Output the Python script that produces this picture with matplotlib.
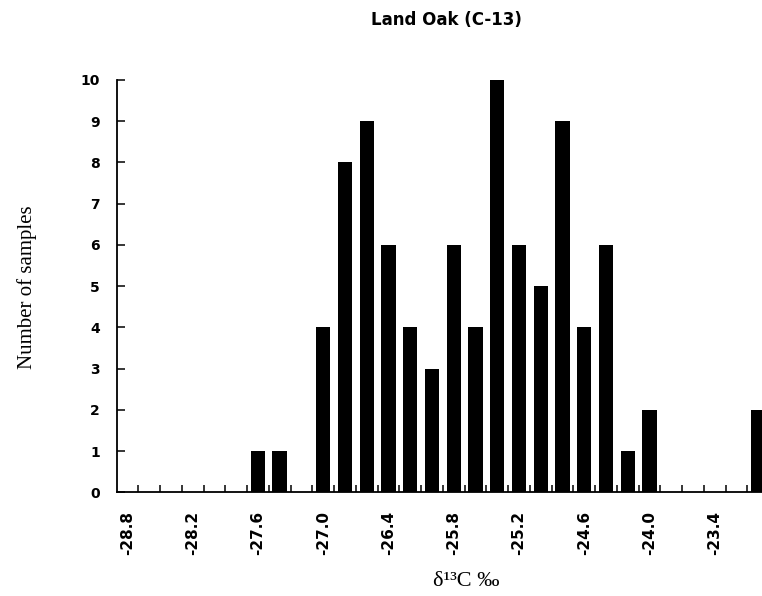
import matplotlib
matplotlib.use("Agg")
import matplotlib.pyplot as plt

# delta 13C classes (per mil), 0.2 steps
DELTA = [-28.8, -28.6, -28.4, -28.2, -28.0, -27.8, -27.6, -27.4, -27.2, -27.0,
         -26.8, -26.6, -26.4, -26.2, -26.0, -25.8, -25.6, -25.4, -25.2, -25.0,
         -24.8, -24.6, -24.4, -24.2, -24.0, -23.8, -23.6, -23.4, -23.2, -23.0]
COUNTS = [0, 0, 0, 0, 0, 0, 1, 1, 0, 4,
          8, 9, 6, 4, 3, 6, 4, 10, 6, 5,
          9, 4, 6, 1, 2, 0, 0, 0, 0, 2]
LABEL_EVERY = 3

fig = plt.figure(figsize=(7.62, 5.96), dpi=100)
ax = fig.add_axes([0.1529, 0.1737, 0.8471, 0.6921])

pos = list(range(len(DELTA)))
ax.bar(pos, COUNTS, width=0.66, color="black")

ax.set_xlim(-0.5, 29.17)
ax.set_ylim(0, 10)

for s in ["top", "right"]:
  ax.spines[s].set_visible(False)
for s in ["left", "bottom"]:
  ax.spines[s].set_linewidth(1.3)

# labels every 3rd class, tick marks between classes
ax.set_xticks(pos[::LABEL_EVERY])
ax.set_xticklabels(["%.1f" % d for d in DELTA[::LABEL_EVERY]],
                   rotation=90, fontsize=11, fontweight="bold",
                   family="DejaVu Sans", va="top")
ax.set_xticks([p + 0.5 for p in pos[:-1]], minor=True)
ax.tick_params(axis="x", which="major", length=0, pad=13)
ax.tick_params(axis="x", which="minor", direction="in", length=5, width=1.1)

ax.set_yticks(range(0, 11))
ax.set_yticklabels([str(v) for v in range(0, 11)], fontsize=10,
                   fontweight="bold", family="DejaVu Sans")
ax.tick_params(axis="y", direction="in", length=6, width=1.1, pad=12)

fig.text(446 / 762, 1 - 20 / 596, "Land Oak (C-13)", ha="center", va="center",
         fontsize=12, fontweight="bold", family="DejaVu Sans")
fig.text(27 / 762, 1 - 287 / 596, "Number of samples", rotation=90,
         ha="center", va="center", fontsize=15, family="Liberation Serif")
fig.text(466 / 762, 1 - 582 / 596, "δ¹³C ‰", ha="center", va="center",
         fontsize=16, family="Liberation Serif")

fig.savefig("out.png", dpi=100)
